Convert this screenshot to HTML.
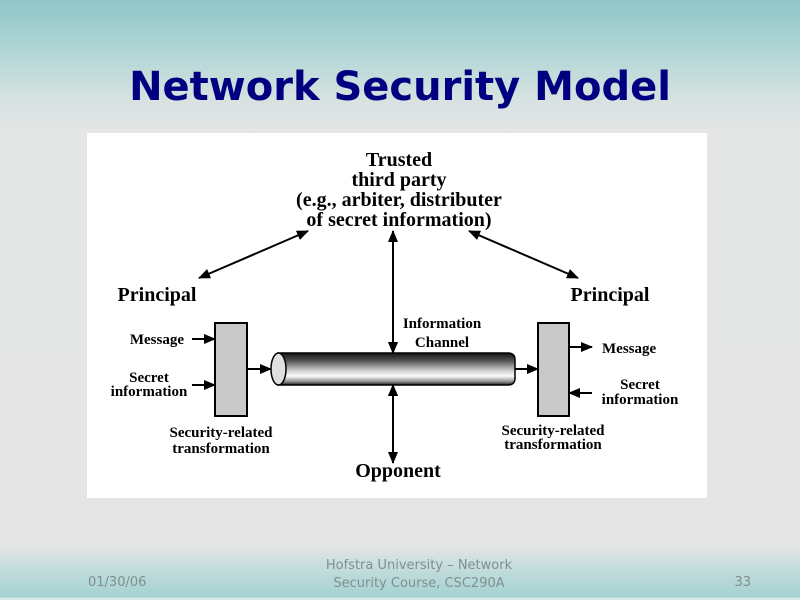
<!DOCTYPE html>
<html><head><meta charset="utf-8"><style>
html,body{margin:0;padding:0;}
body{width:800px;height:600px;overflow:hidden;position:relative;
background:linear-gradient(to bottom,#8fc6c7 0px,#b4d7d7 55px,#d8e2e1 100px,#e5e6e6 135px,#e5e5e5 545px,#c9dddd 565px,#a3d2d2 597px,#d8eaea 598px,#d8eaea 600px);}
svg{position:absolute;left:0;top:0;}
</style></head><body>
<svg width="800" height="600" viewBox="0 0 800 600" xmlns="http://www.w3.org/2000/svg">
<defs>
<linearGradient id="pipe" x1="0" y1="0" x2="0" y2="1">
<stop offset="0" stop-color="#111"/>
<stop offset="0.25" stop-color="#555"/>
<stop offset="0.55" stop-color="#cfcfcf"/>
<stop offset="0.72" stop-color="#fafafa"/>
<stop offset="0.88" stop-color="#9a9a9a"/>
<stop offset="1" stop-color="#222"/>
</linearGradient>
<marker id="ah" viewBox="0 0 12 10" refX="11" refY="5" markerWidth="12" markerHeight="10" markerUnits="userSpaceOnUse" orient="auto-start-reverse">
<path d="M0,0 L12,5 L0,10 z" fill="#000"/>
</marker>
</defs>

<text x="400" y="100" text-anchor="middle" font-family="DejaVu Sans, sans-serif" font-weight="bold" font-size="40" fill="#000080">Network Security Model</text>

<rect x="87" y="133" width="620" height="365" fill="#fff"/>

<g font-family="Liberation Serif, serif" font-weight="bold" fill="#000">
<text x="399" y="166" text-anchor="middle" font-size="20">Trusted</text>
<text x="399" y="186" text-anchor="middle" font-size="20">third party</text>
<text x="399" y="206" text-anchor="middle" font-size="20">(e.g., arbiter, distributer</text>
<text x="399" y="226" text-anchor="middle" font-size="20">of secret information)</text>

<text x="157" y="301" text-anchor="middle" font-size="20">Principal</text>
<text x="610" y="301" text-anchor="middle" font-size="20">Principal</text>

<text x="184" y="344" text-anchor="end" font-size="15">Message</text>
<text x="149" y="382" text-anchor="middle" font-size="15">Secret</text>
<text x="149" y="396" text-anchor="middle" font-size="15">information</text>
<text x="221" y="437" text-anchor="middle" font-size="15">Security-related</text>
<text x="221" y="453" text-anchor="middle" font-size="15">transformation</text>

<text x="442" y="328" text-anchor="middle" font-size="15">Information</text>
<text x="442" y="347" text-anchor="middle" font-size="15">Channel</text>

<text x="602" y="353" font-size="15">Message</text>
<text x="640" y="389" text-anchor="middle" font-size="15">Secret</text>
<text x="640" y="404" text-anchor="middle" font-size="15">information</text>
<text x="553" y="435" text-anchor="middle" font-size="15">Security-related</text>
<text x="553" y="449" text-anchor="middle" font-size="15">transformation</text>

<text x="398" y="477" text-anchor="middle" font-size="20">Opponent</text>
</g>

<!-- arrows to trusted party -->
<g stroke="#000" stroke-width="2" fill="none">
<line x1="199" y1="278" x2="308" y2="231" marker-start="url(#ah)" marker-end="url(#ah)"/>
<line x1="469" y1="231" x2="578" y2="278" marker-start="url(#ah)" marker-end="url(#ah)"/>
<line x1="393" y1="231" x2="393" y2="353" marker-start="url(#ah)" marker-end="url(#ah)"/>
<line x1="393" y1="385" x2="393" y2="463" marker-start="url(#ah)" marker-end="url(#ah)"/>

<line x1="192" y1="339" x2="215" y2="339" marker-end="url(#ah)"/>
<line x1="192" y1="385" x2="215" y2="385" marker-end="url(#ah)"/>
<line x1="247" y1="369" x2="271" y2="369" marker-end="url(#ah)"/>
<line x1="515" y1="369" x2="538" y2="369" marker-end="url(#ah)"/>
<line x1="569" y1="347" x2="592" y2="347" marker-end="url(#ah)"/>
<line x1="592" y1="393" x2="569" y2="393" marker-end="url(#ah)"/>
</g>

<!-- boxes -->
<rect x="215" y="323" width="32" height="93" fill="#c9c9c9" stroke="#000" stroke-width="2"/>
<rect x="538" y="323" width="31" height="93" fill="#c9c9c9" stroke="#000" stroke-width="2"/>

<!-- pipe -->
<path d="M278,353 L508,353 Q515,353 515,360 L515,378 Q515,385 508,385 L278,385 Z" fill="url(#pipe)" stroke="#000" stroke-width="1.5"/>
<ellipse cx="278.5" cy="369" rx="7.5" ry="16" fill="#e0e0e0" stroke="#000" stroke-width="1.5"/>
<!-- re-draw vertical arrowheads over pipe -->
<g stroke="#000" stroke-width="2" fill="none">
<line x1="393" y1="340" x2="393" y2="353" marker-end="url(#ah)"/>
<line x1="393" y1="398" x2="393" y2="385" marker-end="url(#ah)"/>
</g>

<g font-family="DejaVu Sans, sans-serif" font-size="13" fill="#7e8f8f">
<text x="88" y="586">01/30/06</text>
<text x="419" y="569" text-anchor="middle">Hofstra University – Network</text>
<text x="419" y="587" text-anchor="middle">Security Course, CSC290A</text>
<text x="751" y="586" text-anchor="end">33</text>
</g>
</svg>
</body></html>
